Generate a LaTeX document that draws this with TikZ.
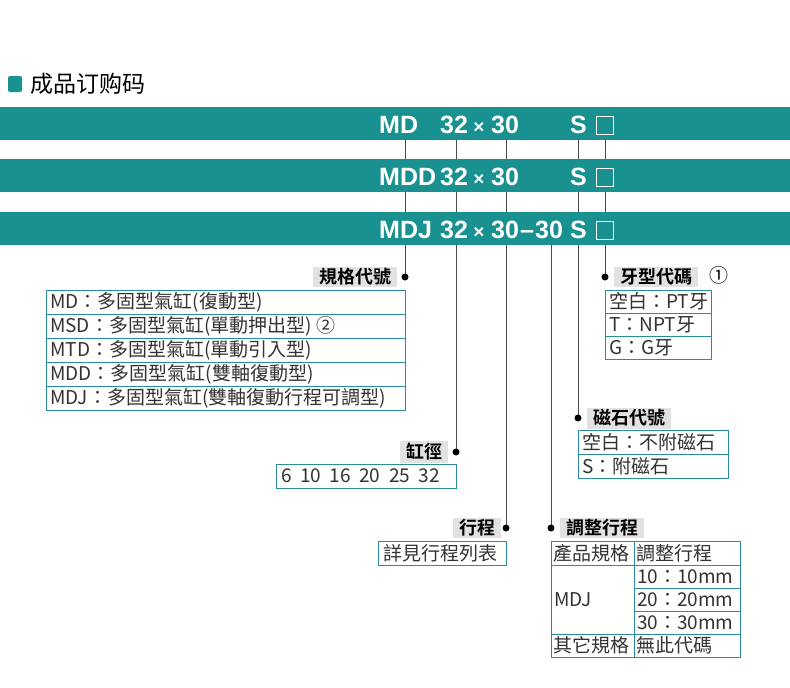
\documentclass[tikz,border=0pt]{standalone}
\usepackage{fontspec}
\setmainfont{Liberation Sans}
\newfontfamily\cjk{Noto Sans CJK TC}
\newfontfamily\cjkb{Noto Sans CJK TC Bold}
\definecolor{teal1}{HTML}{1A9191}
\definecolor{bord}{HTML}{2C8C9C}
\definecolor{txt}{HTML}{333333}
\definecolor{lbl}{HTML}{E2E2E2}
\definecolor{ln}{HTML}{4A4A4A}
\begin{document}
\begin{tikzpicture}[x=1pt,y=-1pt,
  bar/.style={fill=teal1,draw=none},
  bt/.style={text=white,font=\fontsize{25}{25}\bfseries\selectfont,inner sep=0pt,anchor=base west},
  bx/.style={text=white,font=\fontsize{19}{19}\bfseries\selectfont,inner sep=0pt,anchor=base},
  lab/.style={fill=lbl,text=black,font=\cjkb\fontsize{18}{18}\selectfont,inner xsep=6pt,inner ysep=2pt,anchor=center},
  cell/.style={draw=bord,line width=1pt},
  ct/.style={text=txt,font=\cjk\fontsize{19}{19}\selectfont,inner sep=0pt,anchor=west},
  vl/.style={draw=ln,line width=1pt},
  dt/.style={circle,fill=black,inner sep=0pt,minimum size=7pt}]
\useasboundingbox (0,0) rectangle (790,688);
\fill[white] (0,0) rectangle (790,688);
% title
\fill[teal1,rounded corners=2pt] (8,76) rectangle (22,92);
\node[anchor=west,inner sep=0pt,font=\cjk\fontsize{23}{23}\selectfont,text=black] (title) at (30,84) {成品订购码};
% vertical lines
\foreach \x in {405,456,506,578,605}{\draw[vl] (\x,140) -- (\x,159); \draw[vl] (\x,192) -- (\x,212);}
% bars
\foreach \y in {107,159,212}{\fill[bar] (0,\y) rectangle (790,\y+33);}
\foreach \yb/\nm in {133/MD,185/MDD,238/MDJ}{
  \node[bt] at (379,\yb) {\nm};
  \node[bt] at (440,\yb) {32};
  \node[bx] at (479,\yb) {×};
  \node[bt] at (491,\yb) {30};
  \node[bt] at (570,\yb) {S};
  \draw[white,line width=1pt] (596,\yb-17) rectangle (613,\yb+1);
}
\node[bt] at (520,238) {–};
\node[bt] at (535,238) {30};
% lines below
\coordinate (d1) at (405,277); \coordinate (d6) at (605,277);
\coordinate (d5) at (578,418); \coordinate (d2) at (456,452);
\coordinate (d3) at (506,528); \coordinate (d4) at (551,528);
\draw[vl] (405,245) -- (d1); \draw[vl] (605,245) -- (d6);
\draw[vl] (578,245) -- (d5); \draw[vl] (456,245) -- (d2);
\draw[vl] (506,245) -- (d3); \draw[vl] (551,245) -- (d4);
\foreach \d in {d1,d2,d3,d4,d5,d6}{\node[dt] at (\d) {};}
% labels
\node[lab] (l1) at (355,277) {規格代號};
\node[lab] (l6) at (656,277) {牙型代碼};
\node[anchor=center,inner sep=0pt,font=\cjk\fontsize{19}{19}\selectfont] (c1) at (719,275) {①};
\node[lab] (l5) at (629,418) {磁石代號};
\node[lab] (l2) at (424,452) {缸徑};
\node[lab] (l3) at (477,528) {行程};
\node[lab] (l4) at (602,528) {調整行程};
% box 1
\foreach \i in {0,...,4}{\draw[cell] (46,290+24*\i) rectangle (405,314+24*\i);}
\node[ct] at (50,302) {MD：多固型氣缸(復動型)};
\node[ct] at (50,326) {MSD：多固型氣缸(單動押出型) ②};
\node[ct] at (50,350) {MTD：多固型氣缸(單動引入型)};
\node[ct] at (50,374) {MDD：多固型氣缸(雙軸復動型)};
\node[ct] at (50,398) {MDJ：多固型氣缸(雙軸復動行程可調型)};
% box 6
\foreach \i in {0,1,2}{\draw[cell] (605,290+23.3*\i) rectangle (711,313.3+23.3*\i);}
\node[ct] at (609,301.5) {空白：PT牙};
\node[ct] at (609,324.8) {T：NPT牙};
\node[ct] at (609,348.1) {G：G牙};
% box 5
\foreach \i in {0,1}{\draw[cell] (578,430+24*\i) rectangle (728,454+24*\i);}
\node[ct] at (582,442) {空白：不附磁石};
\node[ct] at (582,466) {S：附磁石};
% box 2
\draw[cell] (276,464) rectangle (456,488);
\node[ct] at (281,476) {6\ \ 10\ \ 16\ \ 20\ \ 25\ \ 32};
% box 3
\draw[cell] (378,541) rectangle (506,565);
\node[ct] at (383,553) {詳見行程列表};
% table
\draw[cell] (551,541) rectangle (740,657);
\draw[cell] (634,541) -- (634,657);
\draw[cell] (551,565) -- (740,565);
\draw[cell] (551,634) -- (740,634);
\draw[cell] (634,588) -- (740,588);
\draw[cell] (634,611) -- (740,611);
\node[ct] at (553,553) {產品規格};
\node[ct] at (636,553) {調整行程};
\node[ct] at (554,599.5) {MDJ};
\node[ct] at (637,576.5) {10：10mm};
\node[ct] at (637,599.5) {20：20mm};
\node[ct] at (637,622.5) {30：30mm};
\node[ct] at (553,645.5) {其它規格};
\node[ct] at (636,645.5) {無此代碼};
\end{tikzpicture}
\end{document}
